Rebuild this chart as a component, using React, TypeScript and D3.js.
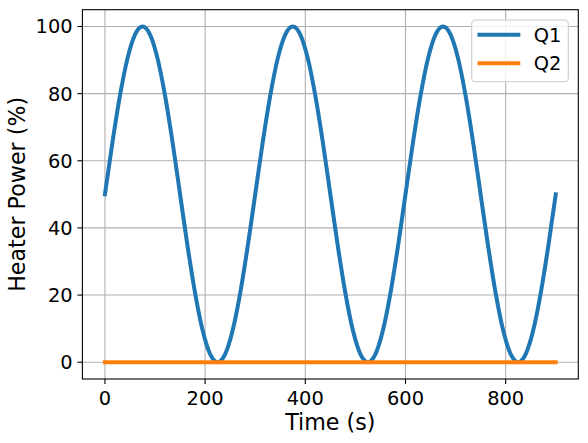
import React from 'react';
import * as d3 from 'd3';

// time (s), sampled every 15 s
const times = [
  0, 15, 30, 45, 60, 75, 90, 105, 120, 135, 150, 165, 180, 195, 210, 225, 240, 255, 270, 285,
  300, 315, 330, 345, 360, 375, 390, 405, 420, 435, 450, 465, 480, 495, 510, 525, 540, 555, 570, 585,
  600, 615, 630, 645, 660, 675, 690, 705, 720, 735, 750, 765, 780, 795, 810, 825, 840, 855, 870, 885,
  900,
];
// heater 1 power (%)
const q1 = [
  50, 65.5, 79.4, 90.5, 97.6, 100, 97.6, 90.5, 79.4, 65.5, 50, 34.5, 20.6, 9.5, 2.4, 0, 2.4, 9.5, 20.6, 34.5,
  50, 65.5, 79.4, 90.5, 97.6, 100, 97.6, 90.5, 79.4, 65.5, 50, 34.5, 20.6, 9.5, 2.4, 0, 2.4, 9.5, 20.6, 34.5,
  50, 65.5, 79.4, 90.5, 97.6, 100, 97.6, 90.5, 79.4, 65.5, 50, 34.5, 20.6, 9.5, 2.4, 0, 2.4, 9.5, 20.6, 34.5,
  50,
];
// heater 2 power (%)
const q2 = times.map(() => 0);

const xTicks = [0, 200, 400, 600, 800];
const yTicks = [0, 20, 40, 60, 80, 100];
const seriesNames = ['Q1', 'Q2'];
const colors = ['#1f77b4', '#ff7f0e'];

export default function App() {
  const width = 588;
  const height = 443;
  const left = 82.4, right = 578.3, top = 9.7, bottom = 379;

  const x = d3.scaleLinear().domain([-45, 945]).range([left, right]);
  const y = d3.scaleLinear().domain([-5, 105]).range([bottom, top]);

  const line = d3.line<number>()
    .x((_, i) => x(times[i]))
    .y(d => y(d))
    .curve(d3.curveMonotoneX);

  const series = [q1, q2];
  const tickFont = 19.4;
  const labelFont = 22.2;
  const font = 'DejaVu Sans, sans-serif';

  // legend
  const lgX = 471.7, lgY = 20, lgW = 96.6, lgH = 61.7;

  return (
    <div style={{ position: 'absolute', left: 0, top: 0 }}>
      <svg width={width} height={height} style={{ display: 'block', fontFamily: font }}>
        <rect x={0} y={0} width={width} height={height} fill="#fff" />
        {/* grid */}
        <g stroke="#b0b0b0" strokeWidth={1.1}>
          {xTicks.map(t => (
            <line key={'gx' + t} x1={x(t)} x2={x(t)} y1={top} y2={bottom} />
          ))}
          {yTicks.map(t => (
            <line key={'gy' + t} x1={left} x2={right} y1={y(t)} y2={y(t)} />
          ))}
        </g>
        {/* data */}
        {series.map((s, i) => (
          <path key={seriesNames[i]} d={line(s) || ''} fill="none" stroke={colors[i]}
            strokeWidth={4} strokeLinecap="square" strokeLinejoin="round" />
        ))}
        {/* spines */}
        <rect x={left} y={top} width={right - left} height={bottom - top} fill="none" stroke="#000" strokeWidth={1.1} />
        {/* x ticks */}
        {xTicks.map(t => (
          <g key={'xt' + t}>
            <line x1={x(t)} x2={x(t)} y1={bottom} y2={bottom + 4.9} stroke="#000" strokeWidth={1.1} />
            <text x={x(t)} y={405} fontSize={tickFont} textAnchor="middle" fill="#000">{t}</text>
          </g>
        ))}
        {/* y ticks */}
        {yTicks.map(t => (
          <g key={'yt' + t}>
            <line x1={left - 4.9} x2={left} y1={y(t)} y2={y(t)} stroke="#000" strokeWidth={1.1} />
            <text x={72.6} y={y(t)} dy="0.36em" fontSize={tickFont} textAnchor="end" fill="#000">{t}</text>
          </g>
        ))}
        {/* axis labels */}
        <text x={(left + right) / 2} y={429.7} fontSize={labelFont} textAnchor="middle" fill="#000">Time (s)</text>
        <text transform={`translate(25,${(top + bottom) / 2}) rotate(-90)`} fontSize={labelFont} textAnchor="middle" fill="#000">
          Heater Power (%)
        </text>
        {/* legend */}
        <rect x={lgX} y={lgY} width={lgW} height={lgH} rx={3.9} fill="#fff" fillOpacity={0.8}
          stroke="#cccccc" strokeWidth={1.1} />
        {seriesNames.map((n, i) => {
          const cy = 34.7 + i * 28.6;
          return (
            <g key={'lg' + n}>
              <line x1={479.5} x2={518.3} y1={cy} y2={cy} stroke={colors[i]} strokeWidth={4} strokeLinecap="square" />
              <text x={533.8} y={cy} dy="0.36em" fontSize={tickFont} fill="#000">{n}</text>
            </g>
          );
        })}
      </svg>
    </div>
  );
}
